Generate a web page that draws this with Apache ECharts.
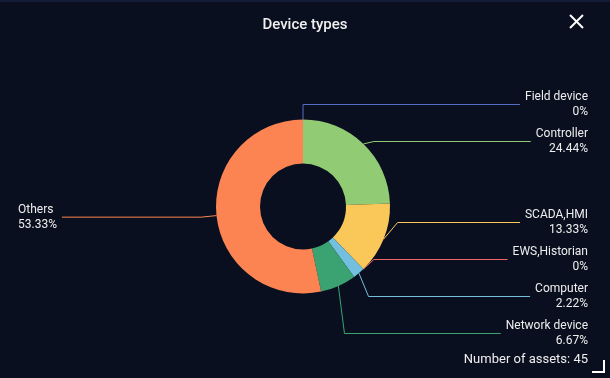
<!DOCTYPE html>
<html>
<head>
<meta charset="utf-8">
<style>
  html, body { margin: 0; padding: 0; background: #0a0f1f; }
  #chart { width: 610px; height: 378px; }
</style>
<script src="https://cdn.jsdelivr.net/npm/echarts@6/dist/echarts.min.js"></script>
</head>
<body>
<div id="chart"></div>
<script>
// device type counts (45 assets in total)
var categories = ['Field device', 'Controller', 'SCADA,HMI', 'EWS,Historian', 'Computer', 'Network device', 'Others'];
var counts = [0, 11, 6, 0, 1, 3, 24];
var colors = ['#5470c6', '#91cc75', '#fac858', '#ee6666', '#73c0de', '#3ba272', '#fc8452'];
var totalLabel = 'Number of assets: 45';

var myChart = echarts.init(document.getElementById('chart'));

var total = 0;
var pieData = [];
for (var i = 0; i < categories.length; i++) {
  total += counts[i];
  pieData.push({ name: categories[i], value: counts[i], itemStyle: { color: colors[i] } });
}

var option = {
  backgroundColor: '#0a0f1f',
  animation: false,
  title: {
    text: 'Device types',
    left: 'center',
    top: 13,
    textStyle: { color: '#f0f0f0', fontSize: 15, fontWeight: 500, fontFamily: 'Roboto' }
  },
  graphic: [
    // top strip
    { type: 'rect', shape: { x: 0, y: 0, width: 610, height: 2 }, style: { fill: '#131c35' } },
    // close icon
    { type: 'line', shape: { x1: 570, y1: 15, x2: 583, y2: 28 }, style: { stroke: '#ffffff', lineWidth: 2 } },
    { type: 'line', shape: { x1: 583, y1: 15, x2: 570, y2: 28 }, style: { stroke: '#ffffff', lineWidth: 2 } },
    // resize corner
    { type: 'polyline', shape: { points: [[592, 372], [604, 372], [604, 360]] }, style: { stroke: '#ffffff', lineWidth: 2, fill: null } },
    {
      type: 'text', x: 588, y: 360,
      style: { text: totalLabel, fill: '#eeeeee', font: '13px Roboto', textAlign: 'right', textVerticalAlign: 'middle' }
    }
  ],
  series: [
    {
      type: 'pie',
      left: 18,
      right: 22,
      top: 0,
      bottom: 26,
      center: ['50%', 206.5],
      radius: [43, 87],
      startAngle: 89.99,
      clockwise: true,
      avoidLabelOverlap: true,
      data: pieData,
      label: {
        show: true,
        alignTo: 'edge',
        edgeDistance: 0,
        formatter: function (params) {
          return params.name + '\n' + (params.value / total * 100).toFixed(2).replace(/\.00$/, '') + '%';
        },
        color: '#eeeeee',
        fontSize: 12,
        fontFamily: 'Roboto',
        lineHeight: 15,
        padding: [2.5, 0, 2.5, 0]
      },
      labelLine: {
        show: true,
        length: 15,
        length2: 0,
        lineStyle: { width: 1 }
      },
      emphasis: { disabled: true }
    }
  ]
};

myChart.setOption(option);
window.onresize = myChart.resize;
</script>
</body>
</html>
